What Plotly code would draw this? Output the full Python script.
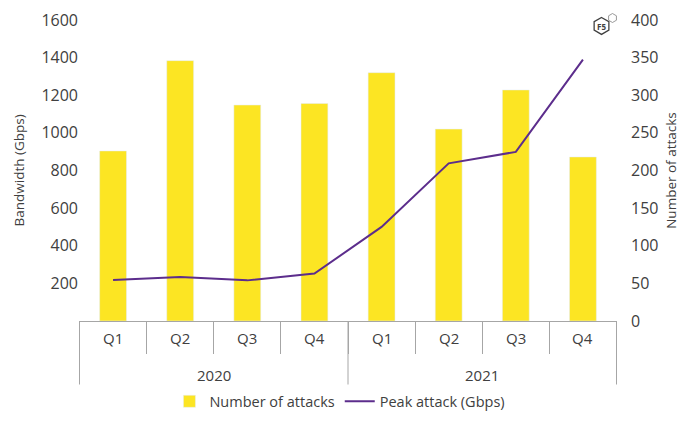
import plotly.graph_objects as go

years = ["2020"] * 4 + ["2021"] * 4
quarters = ["Q1", "Q2", "Q3", "Q4"] * 2
attacks = [226, 346, 287, 289, 330, 255, 307, 218]
peak_gbps = [218, 234, 216, 252, 500, 838, 899, 1389]

cats = [y + " " + q for y, q in zip(years, quarters)]

FONT = "Open Sans"
GREY = "#404040"
AXIS = "#a6a6a6"

fig = go.Figure()

# bars on the right-hand axis, line drawn on top with the left-hand axis
fig.add_trace(go.Bar(
    x=cats, y=attacks,
    name="Number of attacks",
    marker_color="#FCE523",
    width=0.4,
))

fig.add_trace(go.Scatter(
    x=cats, y=peak_gbps,
    name="Peak attack (Gbps)",
    mode="lines",
    line=dict(color="#5C2D8C", width=2),
    yaxis="y2",
))

# page body has an 8px margin, so the margins are shifted to compensate
fig.update_layout(
    width=689, height=422,
    margin=dict(l=71, r=80, t=12, b=107),
    plot_bgcolor="white", paper_bgcolor="white",
    font=dict(family=FONT, size=14, color=GREY),
    showlegend=True,
    legend=dict(orientation="h", x=0.485, xanchor="center", y=-0.267, yanchor="middle",
                traceorder="normal", font=dict(size=14.5, color=GREY)),
    xaxis=dict(
        type="category", automargin=False,
        showline=True, linecolor=AXIS, linewidth=1,
        ticks="outside", tickson="boundaries", ticklen=32, tickcolor=AXIS,
        showticklabels=False, showgrid=False,
    ),
    yaxis=dict(
        range=[0, 400], dtick=50, side="right", automargin=False,
        showgrid=False, zeroline=False, ticklabelstandoff=13,
        tickfont=dict(size=16),
        title=dict(text="Number of attacks", standoff=9, font=dict(size=13.5)),
    ),
    yaxis2=dict(
        range=[0, 1600], overlaying="y", side="left", automargin=False,
        showgrid=False, zeroline=False,
        tickfont=dict(size=16), ticksuffix="\u00a0\u00a0",
        tickvals=[200, 400, 600, 800, 1000, 1200, 1400, 1600],
    ),
)

# left axis title
fig.add_annotation(x=(18 - 79) / 538.0, y=0.5, xref="paper", yref="paper",
                   text="Bandwidth (Gbps)", textangle=-90, showarrow=False,
                   xanchor="center", yanchor="middle", font=dict(size=13.5))

# quarter labels and year labels under the axis
for c, q in zip(cats, quarters):
    fig.add_annotation(x=c, y=-0.056, xref="x", yref="paper", text=q,
                       showarrow=False, yanchor="middle", font=dict(size=15))
for pos, yr in [(1.5, "2020"), (5.5, "2021")]:
    fig.add_annotation(x=pos, y=-0.18, xref="x", yref="paper", text=yr,
                       showarrow=False, yanchor="middle", font=dict(size=15))
# long separators at the year boundaries
for pos in [-0.5, 3.5, 7.5]:
    fig.add_shape(type="line", xref="x", yref="paper", x0=pos, x1=pos, y0=0, y1=-0.211,
                  line=dict(color=AXIS, width=1))

# small F5 logo mark (positions in screen pixels -> paper)
def to_paper(x, y):
    return (x - 79) / 538.0, (323 - y) / 303.0

def hexagon(cx, cy, r):
    dx = r * 0.866
    pts = [(cx, cy - r), (cx + dx, cy - r / 2), (cx + dx, cy + r / 2),
           (cx, cy + r), (cx - dx, cy + r / 2), (cx - dx, cy - r / 2)]
    return "M " + " L ".join("%.4f %.4f" % to_paper(x, y) for x, y in pts) + " Z"

fig.add_shape(type="path", xref="paper", yref="paper", path=hexagon(601.5, 26, 8.5),
              line=dict(color="#404040", width=1.3))
fig.add_shape(type="path", xref="paper", yref="paper", path=hexagon(612.5, 18, 4.5),
              line=dict(color="#808080", width=0.8), fillcolor="white")
lx, ly = to_paper(601.5, 26.5)
fig.add_annotation(x=lx, y=ly, xref="paper", yref="paper", text="<b>F5</b>",
                   xanchor="center", yanchor="middle",
                   showarrow=False, font=dict(size=8, color="#404040"))

fig.write_html("out.html")
